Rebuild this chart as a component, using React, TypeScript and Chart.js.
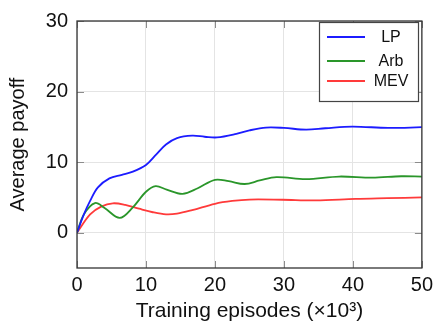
import React, { useEffect, useRef } from "react";
import { Chart, registerables } from "chart.js";

Chart.register(...registerables);

const xTicks = [0, 10, 20, 30, 40, 50];
const yTicks = [0, 10, 20, 30];

const lpX = [0, 1, 1.9, 3, 4.7, 6.5, 8.1, 10, 11.5, 12.9, 14.5, 16.7, 18.5, 20.3, 23.1, 25, 27.4, 30, 33.2, 36, 39.9, 45.1, 50];
const lpY = [0, 2.6, 4.5, 6.4, 7.7, 8.2, 8.65, 9.6, 11.1, 12.5, 13.4, 13.75, 13.6, 13.5, 14.0, 14.5, 14.9, 14.85, 14.6, 14.8, 15.04, 14.85, 14.95];

const arbX = [0, 1, 2.6, 4, 6.2, 8.1, 10, 11.4, 13, 15.3, 17.5, 20, 22, 24.3, 26.5, 28.9, 33.2, 38, 42.8, 47, 50];
const arbY = [0, 2.6, 4.2, 3.5, 2.1, 3.6, 5.8, 6.6, 6.1, 5.5, 6.3, 7.5, 7.3, 6.9, 7.4, 7.87, 7.6, 7.96, 7.8, 8.0, 7.95];

const mevX = [0, 1.9, 3.5, 5.2, 7, 9, 11, 12.9, 14.5, 16.7, 20, 22.5, 25, 29.8, 34.6, 40.4, 45, 50];
const mevY = [0, 2.6, 3.7, 4.17, 3.95, 3.4, 2.9, 2.6, 2.7, 3.2, 4.1, 4.5, 4.7, 4.67, 4.58, 4.8, 4.9, 5.0];

const seriesLabels = ["LP", "Arb", "MEV"];
const seriesColors = ["#1c1cff", "#2a962a", "#ff3a3a"];

const FONT = "'Liberation Sans', Arial, sans-serif";

const toPts = (xs: number[], ys: number[]) => xs.map((x, i) => ({ x, y: ys[i] }));

const framePlugin = {
  id: "frame",
  afterDatasetsDraw(chart: any) {
    const { ctx, chartArea: a, scales } = chart;
    ctx.save();
    ctx.strokeStyle = "#8c8c8c";
    ctx.lineWidth = 1;
    const tl = 7;
    xTicks.forEach((v) => {
      const px = Math.round(scales.x.getPixelForValue(v)) + 0.5;
      ctx.beginPath();
      ctx.moveTo(px, a.bottom);
      ctx.lineTo(px, a.bottom - tl);
      ctx.moveTo(px, a.top);
      ctx.lineTo(px, a.top + tl);
      ctx.stroke();
    });
    yTicks.forEach((v) => {
      const py = Math.round(scales.y.getPixelForValue(v)) + 0.5;
      ctx.beginPath();
      ctx.moveTo(a.left, py);
      ctx.lineTo(a.left + tl, py);
      ctx.moveTo(a.right, py);
      ctx.lineTo(a.right - tl, py);
      ctx.stroke();
    });
    ctx.strokeStyle = "#333";
    ctx.lineWidth = 1.3;
    ctx.strokeRect(a.left, a.top, a.right - a.left, a.bottom - a.top);

    // legend
    const bx = 319, by = 22, bw = 99, bh = 79;
    ctx.fillStyle = "#fff";
    ctx.fillRect(bx, by, bw, bh);
    ctx.strokeStyle = "#444";
    ctx.lineWidth = 1.2;
    ctx.strokeRect(bx + 0.5, by + 0.5, bw, bh);
    const rows = [37, 61, 81];
    ctx.font = `16px ${FONT}`;
    ctx.textAlign = "center";
    ctx.textBaseline = "middle";
    seriesLabels.forEach((lab, i) => {
      ctx.strokeStyle = seriesColors[i];
      ctx.lineWidth = 1.8;
      ctx.beginPath();
      ctx.moveTo(327, rows[i]);
      ctx.lineTo(365, rows[i]);
      ctx.stroke();
      ctx.fillStyle = "#111";
      ctx.fillText(lab, 391, rows[i] + 1);
    });
    ctx.restore();
  },
};

export default function App() {
  const ref = useRef<HTMLCanvasElement>(null);
  useEffect(() => {
    document.body.style.margin = "0";
    const c = ref.current!;
    const datasets = [toPts(lpX, lpY), toPts(arbX, arbY), toPts(mevX, mevY)].map((d, i) => ({
      label: seriesLabels[i],
      data: d,
      borderColor: seriesColors[i],
      backgroundColor: seriesColors[i],
      borderWidth: 1.8,
      pointRadius: 0,
      tension: 0.35,
      fill: false,
    }));
    const chart = new Chart(c, {
      type: "line",
      data: { datasets },
      options: {
        animation: false,
        responsive: false,
        layout: { padding: { top: 16, right: 9, left: 0, bottom: 6 } },
        plugins: { legend: { display: false }, tooltip: { enabled: false } },
        scales: {
          x: {
            type: "linear",
            min: 0,
            max: 50,
            afterBuildTicks: (s: any) => {
              s.ticks = xTicks.map((v) => ({ value: v }));
            },
            afterFit: (s: any) => {
              s.height = 56;
            },
            grid: { color: "#e4e4e4", drawTicks: false, lineWidth: 1 },
            border: { display: false },
            ticks: { color: "#111", font: { family: FONT, size: 20 }, padding: 5, maxRotation: 0 },
            title: {
              display: true,
              text: "Training episodes (×10³)",
              color: "#111",
              font: { family: FONT, size: 21 },
              padding: { top: 4, bottom: 0 },
            },
          },
          y: {
            type: "linear",
            min: -5,
            max: 30,
            afterBuildTicks: (s: any) => {
              s.ticks = yTicks.map((v) => ({ value: v }));
            },
            afterFit: (s: any) => {
              s.width = 77;
            },
            grid: { color: "#e4e4e4", drawTicks: false, lineWidth: 1 },
            border: { display: false },
            ticks: { color: "#111", font: { family: FONT, size: 20 }, padding: 9 },
            title: {
              display: true,
              text: "Average payoff",
              color: "#111",
              font: { family: FONT, size: 20 },
              padding: { top: 6, bottom: 4 },
            },
          },
        },
      },
      plugins: [framePlugin],
    });
    return () => chart.destroy();
  }, []);
  return <canvas ref={ref} width={438} height={330} style={{ display: "block" }} />;
}
